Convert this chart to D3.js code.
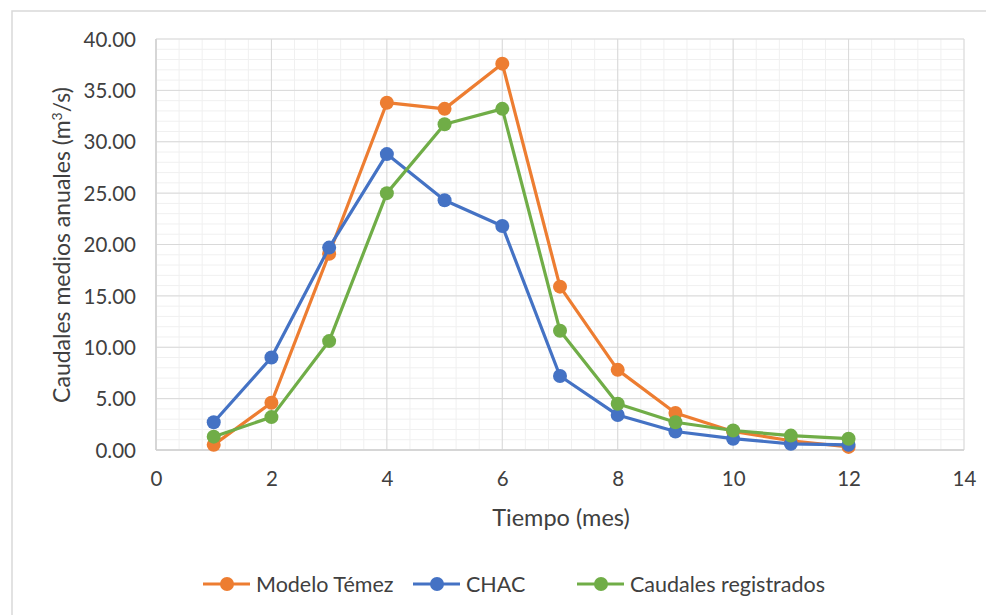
<!DOCTYPE html>
<html>
<head>
<meta charset="utf-8">
<script src="https://cdn.jsdelivr.net/npm/d3@7"></script>
<style>
  html, body { margin: 0; padding: 0; background: #fff; }
  svg { display: block; }
  text { font-family: Lato, "Open Sans", sans-serif; fill: #404040; }
</style>
</head>
<body>
<svg id="chart" width="986" height="615"></svg>
<script>
// Monthly mean discharge (m³/s) per source
const months = [1, 2, 3, 4, 5, 6, 7, 8, 9, 10, 11, 12];
const modeloTemez = [0.5, 4.6, 19.1, 33.8, 33.2, 37.6, 15.9, 7.8, 3.6, 1.8, 0.9, 0.3];
const chac = [2.7, 9.0, 19.7, 28.8, 24.3, 21.8, 7.2, 3.4, 1.8, 1.1, 0.6, 0.5];
const caudalesRegistrados = [1.3, 3.2, 10.6, 25.0, 31.7, 33.2, 11.6, 4.5, 2.7, 1.9, 1.4, 1.1];

const seriesNames = ["Modelo Témez", "CHAC", "Caudales registrados"];
const seriesColors = ["#ed7d31", "#4472c4", "#70ad47"];
const seriesValues = [modeloTemez, chac, caudalesRegistrados];

const xTicks = [0, 2, 4, 6, 8, 10, 12, 14];
const yTicks = [0, 5, 10, 15, 20, 25, 30, 35, 40];

const svg = d3.select("#chart");

// Outer chart frame (extends past the right and bottom of the view)
svg.append("rect")
  .attr("x", 12).attr("y", 11)
  .attr("width", 1000).attr("height", 640)
  .attr("fill", "#fff")
  .attr("stroke", "#d9d9d9")
  .attr("stroke-width", 1.5);

const plot = { left: 156, right: 964, top: 39, bottom: 450 };

const x = d3.scaleLinear().domain([0, 14]).range([plot.left, plot.right]);
const y = d3.scaleLinear().domain([0, 40]).range([plot.bottom, plot.top]);

// Minor gridlines
const grid = svg.append("g");
grid.selectAll(".vminor")
  .data(d3.range(0, 14.001, 0.4))
  .join("line")
  .attr("x1", d => x(d)).attr("x2", d => x(d))
  .attr("y1", plot.top).attr("y2", plot.bottom)
  .attr("stroke", "#f0f0f0").attr("stroke-width", 1);
grid.selectAll(".hminor")
  .data(d3.range(0, 40.001, 1))
  .join("line")
  .attr("y1", d => y(d)).attr("y2", d => y(d))
  .attr("x1", plot.left).attr("x2", plot.right)
  .attr("stroke", "#f0f0f0").attr("stroke-width", 1);

// Major gridlines
grid.selectAll(".vmajor")
  .data(xTicks)
  .join("line")
  .attr("x1", d => x(d)).attr("x2", d => x(d))
  .attr("y1", plot.top).attr("y2", plot.bottom)
  .attr("stroke", "#d9d9d9").attr("stroke-width", 1);
grid.selectAll(".hmajor")
  .data(yTicks)
  .join("line")
  .attr("y1", d => y(d)).attr("y2", d => y(d))
  .attr("x1", plot.left).attr("x2", plot.right)
  .attr("stroke", "#d9d9d9").attr("stroke-width", 1);

// Axis lines
svg.append("line")
  .attr("x1", plot.left).attr("x2", plot.left)
  .attr("y1", plot.top).attr("y2", plot.bottom)
  .attr("stroke", "#d0d0d0").attr("stroke-width", 1.5);
svg.append("line")
  .attr("x1", plot.left).attr("x2", plot.right)
  .attr("y1", plot.bottom).attr("y2", plot.bottom)
  .attr("stroke", "#d0d0d0").attr("stroke-width", 1.5);

// Axes (labels only)
const xAxis = svg.append("g")
  .attr("transform", `translate(0,${plot.bottom})`)
  .call(d3.axisBottom(x).tickValues(xTicks).tickSize(0).tickPadding(0).tickFormat(d3.format("d")));
xAxis.select(".domain").remove();
xAxis.selectAll("text")
  .attr("y", 36).attr("dy", null)
  .style("font-size", "20.5px").attr("fill", "#404040")
  .style("font-family", "Lato, 'Open Sans', sans-serif");

const yAxis = svg.append("g")
  .attr("transform", `translate(${plot.left},0)`)
  .call(d3.axisLeft(y).tickValues(yTicks).tickSize(0).tickPadding(0).tickFormat(d3.format(".2f")));
yAxis.select(".domain").remove();
yAxis.selectAll("text")
  .attr("x", -20).attr("dy", "0.35em")
  .style("font-size", "20.5px").attr("fill", "#404040")
  .style("font-family", "Lato, 'Open Sans', sans-serif");

// Axis titles
svg.append("text")
  .attr("x", 561).attr("y", 526)
  .attr("text-anchor", "middle")
  .style("font-size", "23.5px")
  .text("Tiempo (mes)");

const yTitle = svg.append("text")
  .attr("transform", "translate(70,245) rotate(-90)")
  .attr("text-anchor", "middle")
  .style("font-size", "23px");
yTitle.append("tspan").text("Caudales medios anuales (m");
yTitle.append("tspan").attr("dy", -8).style("font-size", "14px").text("3");
yTitle.append("tspan").attr("dy", 8).text("/s)");

// Series lines and markers
const line = d3.line().x(d => x(d.m)).y(d => y(d.v));
seriesValues.forEach((vals, i) => {
  const pts = months.map((m, j) => ({ m, v: vals[j] }));
  const g = svg.append("g");
  g.append("path")
    .datum(pts)
    .attr("d", line)
    .attr("fill", "none")
    .attr("stroke", seriesColors[i])
    .attr("stroke-width", 3.2)
    .attr("stroke-linejoin", "round");
  g.selectAll("circle")
    .data(pts)
    .join("circle")
    .attr("cx", d => x(d.m))
    .attr("cy", d => y(d.v))
    .attr("r", 7)
    .attr("fill", seriesColors[i]);
});

// Legend
const legendX = [203, 413, 577];
const legend = svg.append("g");
seriesNames.forEach((name, i) => {
  const lg = legend.append("g").attr("transform", `translate(${legendX[i]},584)`);
  lg.append("line")
    .attr("x1", 0).attr("x2", 47)
    .attr("stroke", seriesColors[i]).attr("stroke-width", 3.2);
  lg.append("circle").attr("cx", 24).attr("r", 7).attr("fill", seriesColors[i]);
  lg.append("text")
    .attr("x", 53).attr("dy", "0.35em")
    .style("font-size", "21.5px")
    .text(name);
});
</script>
</body>
</html>
